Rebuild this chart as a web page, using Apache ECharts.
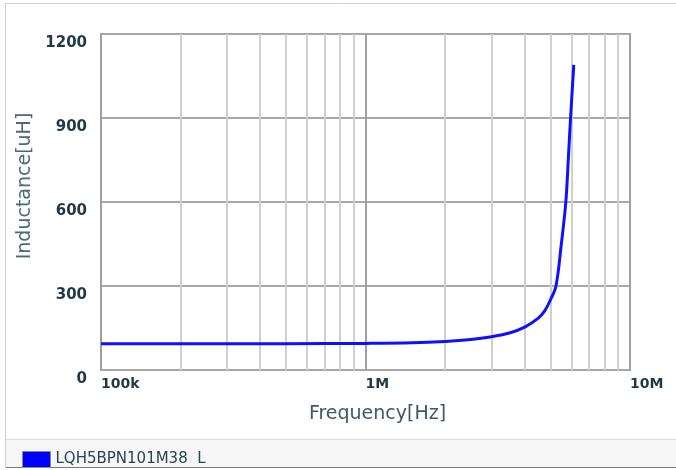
<!DOCTYPE html>
<html>
<head>
<meta charset="utf-8">
<script src="https://cdn.jsdelivr.net/npm/echarts@6/dist/echarts.min.js"></script>
<style>
html,body{margin:0;padding:0;background:#fff;}
#chart{width:676px;height:470px;}
</style>
</head>
<body>
<div id="chart"></div>
<script>
// ---- data ----
const seriesName = 'LQH5BPN101M38  L';
const freqHz = [1e5, 2e5, 5e5, 1e6, 1.5e6, 2e6, 2.5e6, 3e6, 3.5e6, 4e6, 4.5e6, 4.75e6, 5e6, 5.25e6, 5.5e6, 5.72e6, 5.85e6, 5.96e6, 6.13e6];
const inductanceUH = [94, 94, 94, 95, 97, 102, 109, 119, 132, 153, 185, 210, 250, 300, 450, 600, 760, 900, 1090];
const xTickValues = [1e5, 1e6, 1e7];
const xTickLabels = ['100k', '1M', '10M'];
const xMinorGrid = [2e5, 3e5, 4e5, 5e5, 6e5, 7e5, 8e5, 9e5, 2e6, 3e6, 4e6, 5e6, 6e6, 7e6, 8e6, 9e6];
const yTicks = [0, 300, 600, 900, 1200];

const chart = echarts.init(document.getElementById('chart'), null, {renderer: 'canvas'});
const font = 'DejaVu Sans';
const option = {
  animation: false,
  backgroundColor: '#ffffff',
  grid: {left: 101, top: 34, right: 46, bottom: 100, show: true, borderColor: '#9c9c9c', borderWidth: 2, backgroundColor: 'transparent'},
  xAxis: {
    type: 'log', logBase: 10, min: xTickValues[0], max: xTickValues[xTickValues.length - 1],
    name: 'Frequency[Hz]', nameLocation: 'middle', nameGap: 35,
    nameTextStyle: {fontFamily: font, fontSize: 19, color: '#3d5a66', padding: [0, 0, 0, 24]},
    axisLine: {show: false}, axisTick: {show: false},
    axisLabel: {
      fontFamily: font, fontSize: 14, fontWeight: 'bold', color: '#1f3a46', align: 'left', margin: 7,
      formatter: v => { const i = xTickValues.findIndex(t => Math.abs(Math.log10(t) - Math.log10(v)) < 1e-6); return i >= 0 ? xTickLabels[i] : ''; }
    },
    splitLine: {show: true, lineStyle: {color: '#a0a0a0', width: 2}}
  },
  yAxis: {
    type: 'value', min: yTicks[0], max: yTicks[yTicks.length - 1], interval: 300,
    name: 'Inductance[uH]', nameLocation: 'middle', nameRotate: 90, nameGap: 62,
    nameTextStyle: {fontFamily: font, fontSize: 19, color: '#4a6a76', padding: [0, 0, 0, 32]},
    axisLine: {show: false}, axisTick: {show: false},
    axisLabel: {fontFamily: font, fontSize: 15, fontWeight: 'bold', color: '#1f3a46', margin: 14, verticalAlign: 'top', padding: [2, 0, 0, 0], showMaxLabel: true, showMinLabel: true,
      formatter: v => String(v)},
    splitLine: {show: true, lineStyle: {color: '#a8a8a8', width: 2}}
  },
  legend: {
    data: [seriesName], left: 17, top: 446, icon: 'rect', itemWidth: 28, itemHeight: 16,
    itemStyle: {borderColor: '#8a8a8a', borderWidth: 1},
    textStyle: {fontFamily: font, fontSize: 15, color: '#2a4450'},
    selectedMode: false
  },
  graphic: [
    {type: 'rect', silent: true, z: -10, shape: {x: 5.5, y: 3.5, width: 720, height: 464}, style: {fill: 'none', stroke: '#d0d0d0', lineWidth: 1}},
    {type: 'rect', silent: true, z: -9, shape: {x: 6, y: 439, width: 700, height: 28}, style: {fill: '#f6f6f6', stroke: 'none'}},
    {type: 'line', silent: true, z: -8, shape: {x1: 6, y1: 439.5, x2: 676, y2: 439.5}, style: {stroke: '#dedede', lineWidth: 1}},
    {type: 'line', silent: true, z: -8, shape: {x1: 6, y1: 467.5, x2: 676, y2: 467.5}, style: {stroke: '#7a7a7a', lineWidth: 1}}
  ],
  series: [
    {
      name: 'minor-grid', type: 'line', data: [], z: 1, silent: true,
      markLine: {
        silent: true, symbol: ['none', 'none'], label: {show: false},
        lineStyle: {color: '#d0d0d0', width: 2, type: 'solid'},
        data: xMinorGrid.map(v => ({xAxis: v}))
      }
    },
    {
      name: seriesName, type: 'line', z: 5,
      data: freqHz.map((f, i) => [f, inductanceUH[i]]),
      showSymbol: false, smooth: 0.35,
      lineStyle: {color: '#1010ff', width: 3},
      itemStyle: {color: '#0000ff'}
    }
  ]
};
chart.setOption(option);
</script>
</body>
</html>
